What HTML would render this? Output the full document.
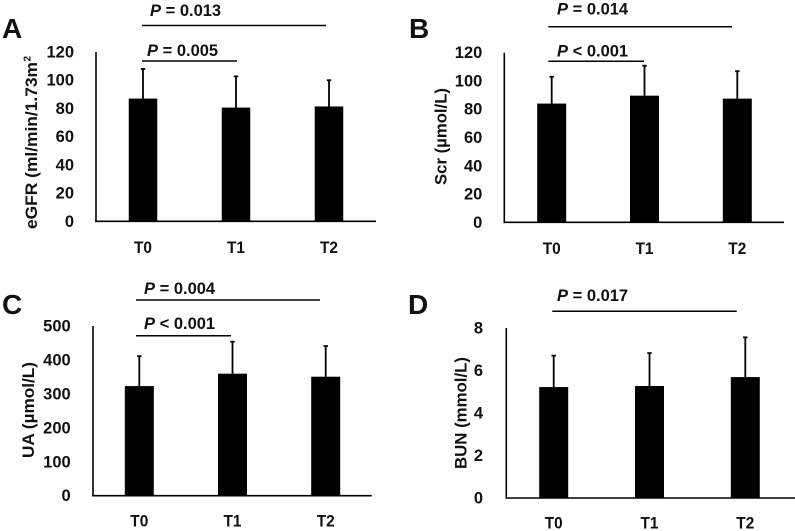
<!DOCTYPE html>
<html lang="en">
<head>
<meta charset="utf-8">
<title>Renal function bar charts</title>
<style>
html,body{margin:0;padding:0;background:#fff;width:795px;height:531px;overflow:hidden}
svg{display:block;filter:blur(.3px)}
text{font-family:"Liberation Sans",Arial,sans-serif;font-weight:bold;fill:#111}
</style>
</head>
<body>
<svg id="figure" xmlns="http://www.w3.org/2000/svg" width="795" height="531" viewBox="0 0 795 531"></svg>
<script>
const categories = ["T0", "T1", "T2"];

const egfrMeans = [87, 80.6, 81.4];
const egfrUpper = [108, 102.7, 100];
const egfrTicks = [0, 20, 40, 60, 80, 100, 120];

const scrMeans = [84, 89.6, 87.5];
const scrUpper = [103, 110.8, 106.9];
const scrTicks = [0, 20, 40, 60, 80, 100, 120];

const uaMeans = [323, 359.5, 350.6];
const uaUpper = [411, 453.8, 441];
const uaTicks = [0, 100, 200, 300, 400, 500];

const bunMeans = [5.22, 5.27, 5.69];
const bunUpper = [6.7, 6.82, 7.56];
const bunTicks = [0, 2, 4, 6, 8];

const panels = [
  {id:"a", letter:"A", lx:2, ly:38, means:egfrMeans, upper:egfrUpper, ticks:egfrTicks,
   left:96, right:376, top:52, bottom:221.3, first:143, step:93, barW:28.5, tickEnd:74, catY:253,
   title:"eGFR (ml/min/1.73m", titleX:37, titleY0:229, titleY1:62, sup:{x:30.5, y:55},
   sig:[{label:" = 0.013", tx:150, ty:16, x1:142, x2:326, y:25.5},
        {label:" = 0.005", tx:147, ty:56, x1:142, x2:237, y:61}]},
  {id:"b", letter:"B", lx:409, ly:38, means:scrMeans, upper:scrUpper, ticks:scrTicks,
   left:504.3, right:784, top:52.7, bottom:222.3, first:551.7, step:92.8, barW:29, tickEnd:482.3, catY:254,
   title:"Scr (µmol/L)", titleX:446.7, titleY0:185, titleY1:88,
   sig:[{label:" = 0.014", tx:557, ty:14.5, x1:548.3, x2:732, y:26.7},
        {label:" < 0.001", tx:557, ty:56.7, x1:548.3, x2:644, y:61.3}]},
  {id:"c", letter:"C", lx:2, ly:314, means:uaMeans, upper:uaUpper, ticks:uaTicks,
   left:93, right:371.7, top:326, bottom:495.7, first:139.3, step:93.2, barW:29, tickEnd:70.7, catY:526.7,
   title:"UA (µmol/L)", titleX:34, titleY0:458, titleY1:362,
   sig:[{label:" = 0.004", tx:144, ty:294, x1:136, x2:320, y:300},
        {label:" < 0.001", tx:144, ty:329, x1:136, x2:231, y:335.7}]},
  {id:"d", letter:"D", lx:408, ly:314, means:bunMeans, upper:bunUpper, ticks:bunTicks,
   left:506.3, right:795, top:328, bottom:498, first:553.7, step:95.8, barW:29, tickEnd:483, catY:528.3,
   title:"BUN (mmol/L)", titleX:466.7, titleY0:469, titleY1:357,
   sig:[{label:" = 0.017", tx:557, ty:301, x1:552.3, x2:736.7, y:311.3}]}
];

const NS = "http://www.w3.org/2000/svg";
const svg = document.getElementById("figure");

function make(tag, attrs, parent, content) {
  const node = document.createElementNS(NS, tag);
  for (const k in attrs) node.setAttribute(k, attrs[k]);
  if (content !== undefined) node.textContent = content;
  parent.appendChild(node);
  return node;
}

panels.forEach(function (p) {
  const maxTick = Math.max.apply(null, p.ticks);
  const yScale = function (v) { return p.bottom - (v / maxTick) * (p.bottom - p.top); };
  const xScale = function (i) { return p.first + i * p.step; };

  const g = make("g", {}, svg);
  
  

  const letter = make("text", {x:p.lx, y:p.ly, "font-size":28}, g, p.letter);
  
  

  p.means.forEach(function (m, i) {
    const bar = make("rect", {x:xScale(i) - p.barW / 2, y:yScale(m), width:p.barW, height:p.bottom - yScale(m), fill:"#000"}, g);
    
    

    const stem = make("line", {x1:xScale(i), x2:xScale(i), y1:yScale(m), y2:yScale(p.upper[i]), stroke:"#000", "stroke-width":1.8}, g);
    
    

    const cap = make("line", {x1:xScale(i) - 2.2, x2:xScale(i) + 2.2, y1:yScale(p.upper[i]), y2:yScale(p.upper[i]), stroke:"#000", "stroke-width":1.8}, g);
    
    

    const cat = make("text", {x:xScale(i), y:p.catY, "font-size":16.5, "text-anchor":"middle", textLength:18, lengthAdjust:"spacingAndGlyphs"}, g, categories[i]);
    
    
  });

  const yAxis = make("line", {x1:p.left, x2:p.left, y1:p.top, y2:p.bottom + 0.8, stroke:"#000", "stroke-width":1.6}, g);
  
  

  const xAxis = make("line", {x1:p.left - 0.8, x2:p.right, y1:p.bottom, y2:p.bottom, stroke:"#000", "stroke-width":1.6}, g);
  
  

  p.ticks.forEach(function (t) {
    const tick = make("text", {x:p.tickEnd, y:yScale(t) + 5.5, "font-size":16.5, "text-anchor":"end"}, g, t);
    
    
  });

  const titleLen = p.titleY0 - p.titleY1;
  const title = make("text", {
    transform:"translate(" + p.titleX + "," + p.titleY0 + ") rotate(-90)",
    "font-size":17, textLength:titleLen, lengthAdjust:"spacingAndGlyphs"
  }, g, p.title);
  
  

  if (p.sup) {
    const sup = make("text", {
      transform:"translate(" + p.sup.x + "," + (p.sup.y + 6.5) + ") rotate(-90)",
      "font-size":10
    }, g, "2");
    
    
  }

  p.sig.forEach(function (s, i) {
    const line = make("line", {x1:s.x1, x2:s.x2, y1:s.y, y2:s.y, stroke:"#000", "stroke-width":1.5}, g);
    
    

    const label = make("text", {x:s.tx, y:s.ty, "font-size":16.5, style:"white-space:pre"}, g);
    
    
    make("tspan", {"font-style":"italic"}, label, "P");
    make("tspan", {}, label, s.label);
  });
});
</script>
</body>
</html>
